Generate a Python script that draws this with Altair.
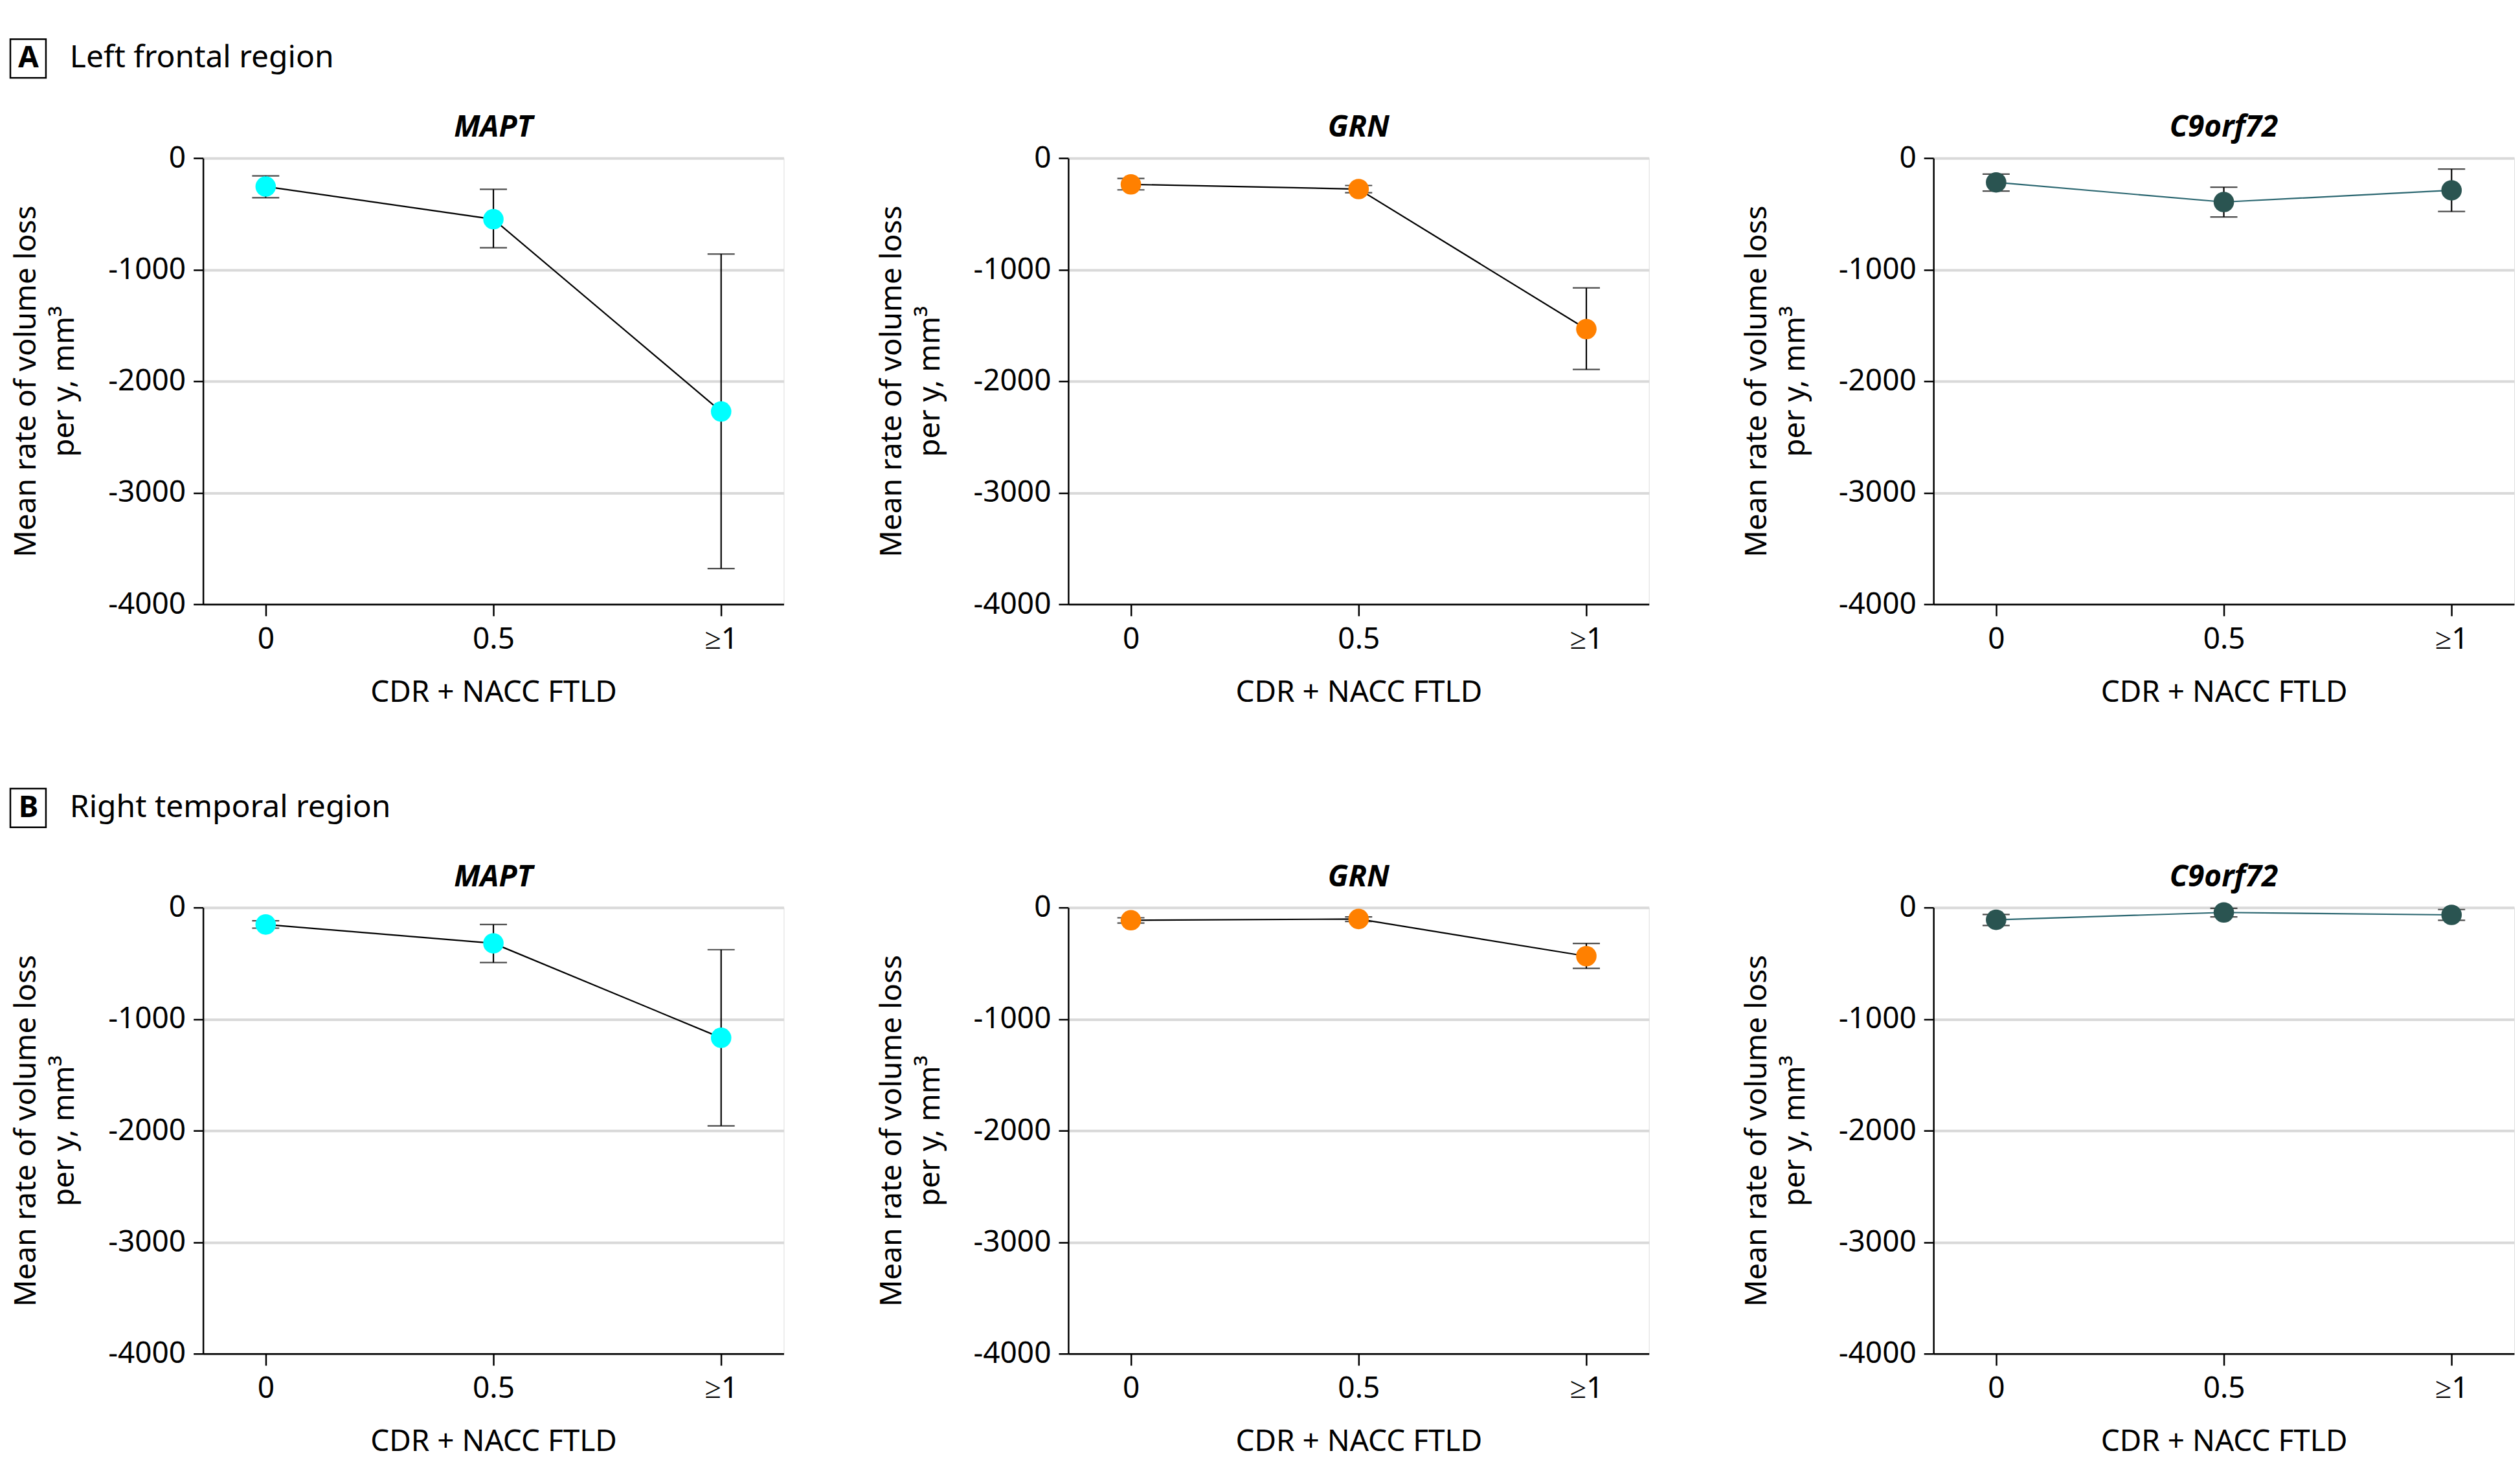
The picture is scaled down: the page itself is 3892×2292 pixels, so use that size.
import altair as alt
import pandas as pd

cdr_levels = ["0", "0.5", "≥1"]
genes = ["MAPT", "GRN", "C9orf72"]
regions = ["Left frontal region", "Right temporal region"]
region_letters = ["A", "B"]

gene_colors = ["#00FFFF", "#FF8000", "#2A5451"]
line_colors = ["#000000", "#000000", "#2A6670"]

# Left frontal region
lf_mapt_mean = [-255, -548, -2272]
lf_mapt_lo = [-355, -804, -3680]
lf_mapt_hi = [-160, -280, -860]

lf_grn_mean = [-236, -278, -1533]
lf_grn_lo = [-285, -310, -1895]
lf_grn_hi = [-183, -246, -1164]

lf_c9_mean = [-218, -394, -289]
lf_c9_lo = [-296, -528, -479]
lf_c9_hi = [-144, -261, -99]

# Right temporal region
rt_mapt_mean = [-152, -321, -1168]
rt_mapt_lo = [-185, -493, -1957]
rt_mapt_hi = [-119, -152, -378]

rt_grn_mean = [-114, -103, -436]
rt_grn_lo = [-139, -125, -546]
rt_grn_hi = [-92, -84, -322]

rt_c9_mean = [-110, -44, -66]
rt_c9_lo = [-161, -84, -114]
rt_c9_hi = [-62, -7, -18]

series = {
    (0, 0): (lf_mapt_mean, lf_mapt_lo, lf_mapt_hi),
    (0, 1): (lf_grn_mean, lf_grn_lo, lf_grn_hi),
    (0, 2): (lf_c9_mean, lf_c9_lo, lf_c9_hi),
    (1, 0): (rt_mapt_mean, rt_mapt_lo, rt_mapt_hi),
    (1, 1): (rt_grn_mean, rt_grn_lo, rt_grn_hi),
    (1, 2): (rt_c9_mean, rt_c9_lo, rt_c9_hi),
}

FONT = "Noto Sans"
FS = 46
W, H = 898, 690

yscale = alt.Scale(domain=[-4000, 0], nice=False, zero=False)
xscale = alt.Scale(type="point", padding=0.275)

yaxis = alt.Axis(
    values=[0, -1000, -2000, -3000, -4000],
    labelExpr="datum.value + ''",
    grid=True, gridColor="#d9d9d9", gridWidth=4,
    domainColor="black", domainWidth=2.5,
    tickColor="black", tickWidth=2.5, tickSize=15,
    labelPadding=12, labelFontSize=FS, labelColor="black", labelFont=FONT,
    title=["Mean rate of volume loss", "per y, mm³"],
    titleFontSize=FS, titleFontWeight="normal", titleColor="black", titleFont=FONT,
    titleAngle=-90, titleX=-249, titleY=H / 2, titleBaseline="bottom",
    titleAlign="center", titleLineHeight=59,
)

xaxis = alt.Axis(
    title="CDR + NACC FTLD", labelAngle=0, tickSize=18, labelPadding=14,
    domainColor="black", domainWidth=2.5, tickColor="black", tickWidth=2.5,
    labelFontSize=FS, titleFontSize=FS, titleFontWeight="normal",
    labelColor="black", titleColor="black", labelFont=FONT, titleFont=FONT,
    grid=False, titleY=150, titleBaseline="alphabetic", zindex=1,
)


def yenc(field):
    return alt.Y(field, type="quantitative", scale=yscale, axis=yaxis)


def panel(ri, gi):
    mean, lo, hi = series[(ri, gi)]
    df = pd.DataFrame({"cdr": cdr_levels, "mean": mean, "lo": lo, "hi": hi})
    base = alt.Chart(df).encode(
        x=alt.X("cdr:N", sort=cdr_levels, scale=xscale, axis=xaxis)
    )
    rule = base.mark_rule(color="black", strokeWidth=2.2).encode(y=yenc("lo"), y2="hi:Q")
    cap_lo = base.mark_tick(color="black", size=42, thickness=2.2).encode(y=yenc("lo"))
    cap_hi = base.mark_tick(color="black", size=42, thickness=2.2).encode(y=yenc("hi"))
    line = base.mark_line(color=line_colors[gi], strokeWidth=2.2).encode(y=yenc("mean"))
    pts = base.mark_circle(size=1000, opacity=1, color=gene_colors[gi]).encode(y=yenc("mean"))
    gdf = pd.DataFrame({"gene": [genes[gi]]})
    gtitle = alt.Chart(gdf).mark_text(
        fontSize=FS, fontStyle="italic", fontWeight="bold", font=FONT,
        align="center", baseline="middle", color="black"
    ).encode(x=alt.value(W / 2), y=alt.value(-47), text="gene:N")
    layers = [rule, cap_lo, cap_hi, line, pts, gtitle]
    if gi == 0:
        lab = pd.DataFrame({"letter": [region_letters[ri]], "region": [regions[ri]]})
        box = alt.Chart(lab).mark_rect(fill="white", stroke="black", strokeWidth=2.5).encode(
            x=alt.value(-298), x2=alt.value(-243), y=alt.value(-184), y2=alt.value(-124)
        )
        letter = alt.Chart(lab).mark_text(
            fontSize=FS, fontWeight="bold", align="center", baseline="middle", font=FONT, color="black"
        ).encode(x=alt.value(-270), y=alt.value(-154), text="letter:N")
        rtext = alt.Chart(lab).mark_text(
            fontSize=48, align="left", baseline="middle", font=FONT, color="black"
        ).encode(x=alt.value(-206), y=alt.value(-154), text="region:N")
        layers += [box, letter, rtext]
    return alt.layer(*layers).properties(width=W, height=H)


panels = [panel(ri, gi) for ri in range(2) for gi in range(3)]

chart = alt.concat(
    *panels, columns=3, spacing={"row": 469, "column": 440}, bounds="flush"
).properties(
    padding={"left": 6, "top": 49, "right": 0, "bottom": 5}
).configure_view(stroke=None).configure(font=FONT)

chart.save("out.html", embed_options={"renderer": "svg", "actions": False})
